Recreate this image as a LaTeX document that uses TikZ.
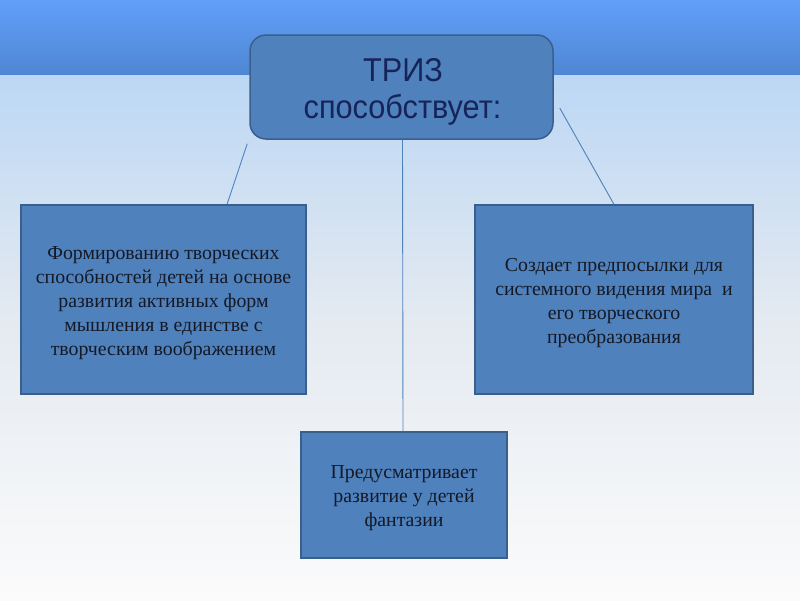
\documentclass[tikz,border=0pt]{standalone}
\usepackage{fontspec}
\setmainfont{Liberation Serif}
\newfontfamily\titlesans[FakeStretch=0.93]{Liberation Sans}
\usetikzlibrary{calc}
\definecolor{bandtop}{HTML}{619FFA}
\definecolor{bandbot}{HTML}{4F86D2}
\definecolor{lighttop}{HTML}{BCD7F4}
\definecolor{lightmid}{HTML}{E4EAF1}
\definecolor{lightbot}{HTML}{FBFBFB}
\definecolor{boxfill}{HTML}{4F81BD}
\definecolor{boxline}{HTML}{3A5F8C}
\definecolor{titletext}{HTML}{17245A}
\definecolor{bodytext}{HTML}{141926}
\definecolor{linkline}{HTML}{4F81BD}
\tikzset{
  titlebox/.style={draw=boxline, line width=1.5pt, fill=boxfill, rounded corners=16pt,
    minimum width=303pt, minimum height=104pt, inner sep=0pt},
  titletxt/.style={anchor=base, text=titletext,
    font=\titlesans\fontsize{33}{37}\selectfont, inner sep=0pt},
  infobox/.style={draw=boxline, line width=1.2pt, fill=boxfill, inner sep=0pt},
  infotxt/.style={align=center, text=bodytext, font=\fontsize{19.8}{24}\selectfont, inner sep=0pt},
  link/.style={draw=linkline, line width=0.9pt}
}
\begin{document}
\begin{tikzpicture}[x=1pt,y=-1pt]
\useasboundingbox (0,0) rectangle (800,600);
\shade[top color=bandtop, bottom color=bandbot] (0,0) rectangle (800,75);
\shade[top color=lighttop, bottom color=lightmid] (0,75) rectangle (800,320);
\shade[top color=lightmid, bottom color=lightbot] (0,320) rectangle (800,600);

\node[titlebox] (top) at (401.5,87) {};
\node[titletxt] (toptextA) at (403,81) {ТРИЗ};
\node[titletxt] (toptextB) at (402.5,118) {способствует:};

\node[infobox, minimum width=285pt, minimum height=189pt] (left) at (163.5,299.5) {};
\node[infotxt] (lefttext) at ($(left.center)+(0,4)$)
  {Формированию творческих\\способностей детей на основе\\развития активных форм\\мышления в единстве с\\творческим воображением};

\node[infobox, minimum width=278pt, minimum height=189pt] (right) at (614,299.5) {};
\node[infotxt] (righttext) at ($(right.center)+(0,4)$)
  {Создает предпосылки для\\системного видения мира\ \ и\\его творческого\\преобразования};

\node[infobox, minimum width=206pt, minimum height=126pt] (bottom) at (404,495) {};
\node[infotxt] (bottomtext) at ($(bottom.center)+(0,3)$)
  {Предусматривает\\развитие у детей\\фантазии};

\draw[link] ($(top.south west)+(-2,4)$) -- ($(left.north)+(63.5,0)$);
\draw[link] ($(top.east)+(6,21)$) -- (right.north);
\draw[link] ($(top.south)+(1,0)$) -- ($(bottom.north)+(-1,0)$);
\end{tikzpicture}
\end{document}
